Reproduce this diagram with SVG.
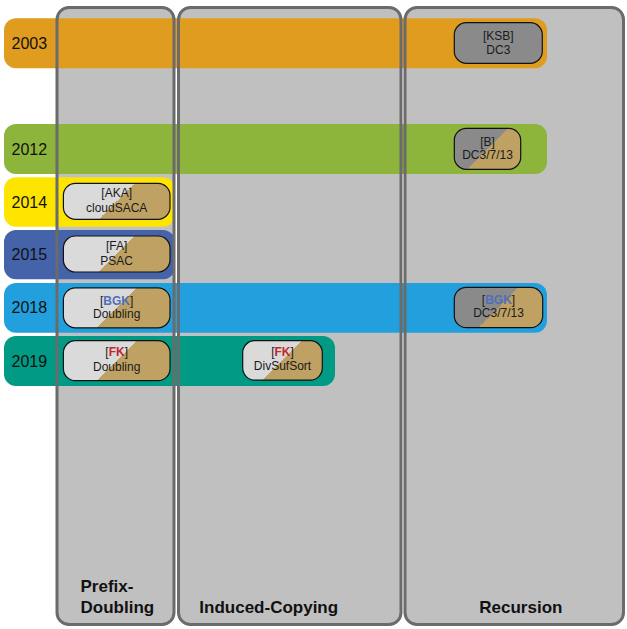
<svg xmlns="http://www.w3.org/2000/svg" width="627" height="629" viewBox="0 0 627 629">
<style>
  .lanebg { fill: #c0c0c0; }
  .laneln { fill: none; stroke: #6b6b6b; stroke-width: 3; }
  .lanelbl { font-family: "Liberation Sans", Arial, sans-serif; font-weight: bold; font-size: 17px; fill: #111; }
  .year { font-family: "Liberation Sans", Arial, sans-serif; font-size: 16px; fill: #111; }
  .box { stroke: #111; stroke-width: 1.2; }
  .nt { font-family: "Liberation Sans", Arial, sans-serif; font-size: 12px; fill: #1a1a1a; text-anchor: middle; }
  .blue { fill: #4f6fb8; font-weight: bold; }
  .red { fill: #c1272d; font-weight: bold; }
</style>
<defs>
  <linearGradient id="lt" gradientUnits="userSpaceOnUse" x1="-20" y1="-20" x2="20" y2="20">
    <stop offset="0.5" stop-color="#dadada"/>
    <stop offset="0.5" stop-color="#bfa263"/>
  </linearGradient>
  <linearGradient id="gt" gradientUnits="userSpaceOnUse" x1="-20" y1="-20" x2="20" y2="20">
    <stop offset="0.5" stop-color="#8a8a8a"/>
    <stop offset="0.5" stop-color="#bfa263"/>
  </linearGradient>
</defs>

<g id="lane-backgrounds">
  <rect class="lanebg" x="57" y="7.5" width="117" height="617" rx="12"/>
  <rect class="lanebg" x="178.5" y="7.5" width="222.5" height="617" rx="12"/>
  <rect class="lanebg" x="405" y="7.5" width="218.5" height="617" rx="12"/>
</g>

<g id="year-bands">
  <g id="y2003"><rect x="4" y="18.3" width="543" height="50" rx="12" fill="#e09c1e"/><text class="year" x="11.5" y="48.8">2003</text></g>
  <g id="y2012"><rect x="4" y="124" width="543" height="50" rx="12" fill="#8db53c"/><text class="year" x="11.5" y="154.5">2012</text></g>
  <g id="y2014"><rect x="4" y="177.3" width="171" height="49.4" rx="12" fill="#fde500"/><text class="year" x="11.5" y="207.5">2014</text></g>
  <g id="y2015"><rect x="4" y="230" width="171" height="49.3" rx="12" fill="#4563a9"/><text class="year" x="11.5" y="260">2015</text></g>
  <g id="y2018"><rect x="4" y="283" width="543" height="49.7" rx="12" fill="#22a0dd"/><text class="year" x="11.5" y="313.3">2018</text></g>
  <g id="y2019"><rect x="4" y="336" width="331" height="50" rx="12" fill="#009a85"/><text class="year" x="11.5" y="366.5">2019</text></g>
</g>

<g id="lanes">
  <g id="lane-prefix-doubling">
    <rect class="laneln" x="57" y="7.5" width="117" height="617" rx="12"/>
    <text class="lanelbl" x="80.5" y="591.7">Prefix-</text>
    <text class="lanelbl" x="80.5" y="613.3">Doubling</text>
  </g>
  <g id="lane-induced-copying">
    <rect class="laneln" x="178.5" y="7.5" width="222.5" height="617" rx="12"/>
    <text class="lanelbl" x="199.3" y="613.3">Induced-Copying</text>
  </g>
  <g id="lane-recursion">
    <rect class="laneln" x="405" y="7.5" width="218.5" height="617" rx="12"/>
    <text class="lanelbl" x="479.3" y="613.3">Recursion</text>
  </g>
</g>

<g id="n-ksb" transform="translate(498.3,43)">
  <rect class="box" x="-44" y="-20.3" width="88" height="40.6" rx="12" fill="#8a8a8a"/>
  <text class="nt" y="-3.5">[KSB]</text>
  <text class="nt" y="10.5">DC3</text>
</g>
<g id="n-b" transform="translate(487.5,148.8)">
  <rect class="box" x="-33.2" y="-20.5" width="66.4" height="41" rx="12" fill="url(#gt)"/>
  <text class="nt" y="-3">[B]</text>
  <text class="nt" y="10.5">DC3/7/13</text>
</g>
<g id="n-aka" transform="translate(116.7,201.3)">
  <rect class="box" x="-53.3" y="-18" width="106.6" height="36" rx="12" fill="url(#lt)"/>
  <text class="nt" y="-4.5">[AKA]</text>
  <text class="nt" y="10.5">cloudSACA</text>
</g>
<g id="n-fa" transform="translate(116.7,254)">
  <rect class="box" x="-53.3" y="-18" width="106.6" height="36" rx="12" fill="url(#lt)"/>
  <text class="nt" y="-4">[FA]</text>
  <text class="nt" y="11">PSAC</text>
</g>
<g id="n-bgk-doubling" transform="translate(116.7,307.8)">
  <rect class="box" x="-53.3" y="-20" width="106.6" height="40" rx="12" fill="url(#lt)"/>
  <text class="nt" y="-3">[<tspan class="blue">BGK</tspan>]</text>
  <text class="nt" y="10">Doubling</text>
</g>
<g id="n-fk-doubling" transform="translate(116.7,360.7)">
  <rect class="box" x="-53.3" y="-20" width="106.6" height="40" rx="12" fill="url(#lt)"/>
  <text class="nt" y="-4.5">[<tspan class="red">FK</tspan>]</text>
  <text class="nt" y="10">Doubling</text>
</g>
<g id="n-fk-divsufsort" transform="translate(282.5,360.4)">
  <rect class="box" x="-39.8" y="-19.7" width="79.6" height="39.4" rx="12" fill="url(#lt)"/>
  <text class="nt" y="-4">[<tspan class="red">FK</tspan>]</text>
  <text class="nt" y="10">DivSufSort</text>
</g>
<g id="n-bgk-dc" transform="translate(498.5,307.5)">
  <rect class="box" x="-44.2" y="-20.2" width="88.4" height="40.4" rx="12" fill="url(#gt)"/>
  <text class="nt" y="-3.5">[<tspan class="blue">BGK</tspan>]</text>
  <text class="nt" y="9.5">DC3/7/13</text>
</g>
</svg>
